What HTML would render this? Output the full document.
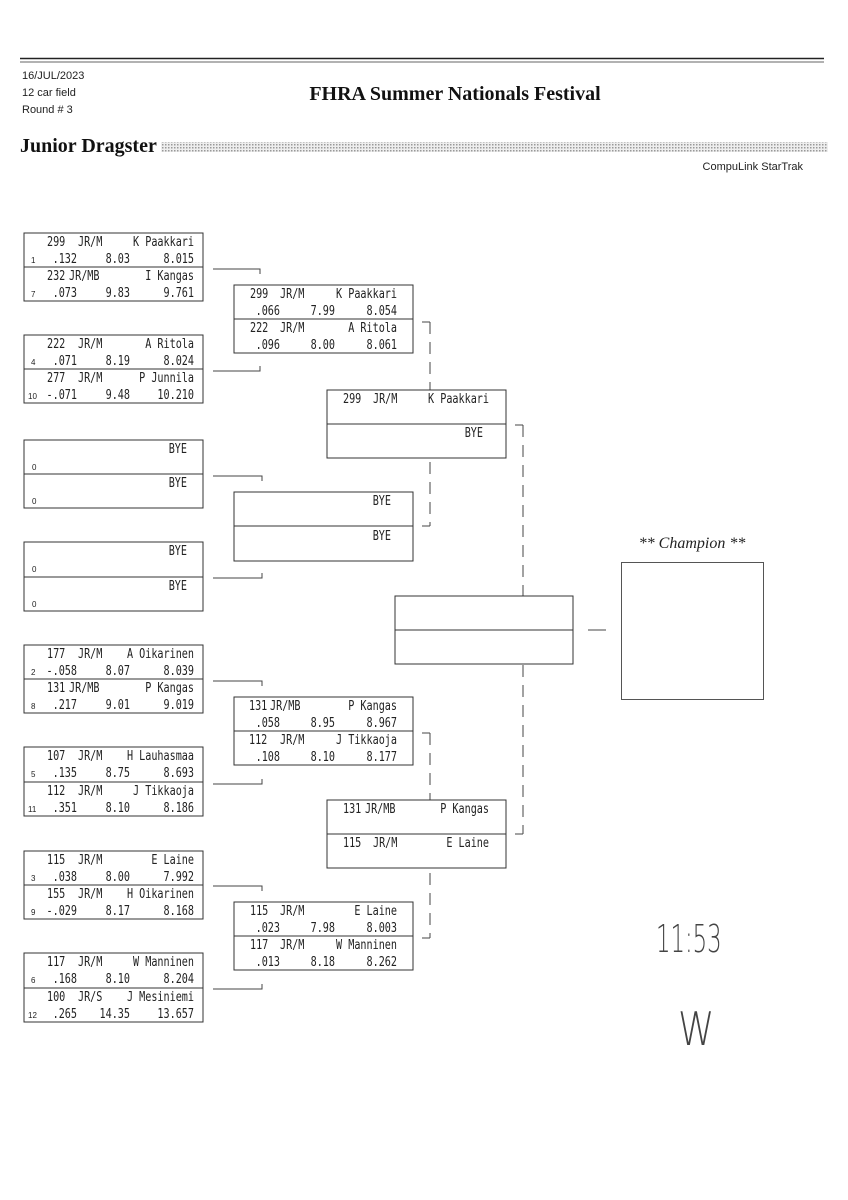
<!DOCTYPE html>
<html><head><meta charset="utf-8"><style>
html,body{margin:0;padding:0;background:#fff;}
svg{display:block}
.m{font-family:"DejaVu Sans Mono","Liberation Mono",monospace;font-size:13px;fill:#222;transform-box:fill-box;transform-origin:0 0;transform:scaleX(.78)}
.m[text-anchor=end]{transform-origin:100% 0}
.s{font-family:"Liberation Sans",sans-serif;font-size:8px;fill:#222}
.h{font-family:"Liberation Sans",sans-serif;font-size:11px;fill:#222}
.t{font-family:"Liberation Serif",serif;font-weight:bold;fill:#111}
.b{fill:#fff;stroke:#333;stroke-width:1}
</style></head><body>
<svg width="848" height="1200" viewBox="0 0 848 1200" xmlns="http://www.w3.org/2000/svg">
<defs><pattern id="dots" width="3" height="3" patternUnits="userSpaceOnUse"><rect width="3" height="3" fill="#eee"/><rect width="1.5" height="1.5" fill="#999"/></pattern></defs>
<line x1="20" y1="58.5" x2="824" y2="58.5" stroke="#222" stroke-width="1.5"/>
<line x1="20" y1="62" x2="824" y2="62" stroke="#666" stroke-width="1"/>
<text class="h" x="22" y="79">16/JUL/2023</text>
<text class="h" x="22" y="96">12 car field</text>
<text class="h" x="22" y="113">Round # 3</text>
<text class="t" x="455" y="100" font-size="20" text-anchor="middle">FHRA Summer Nationals Festival</text>
<text class="t" x="20" y="152" font-size="20">Junior Dragster</text>
<rect x="161" y="142" width="667" height="10" fill="url(#dots)"/>
<text class="h" x="803" y="170" text-anchor="end">CompuLink StarTrak</text>

<!-- Round 1 -->
<rect class="b" x="24" y="233" width="179" height="68"/><line x1="24" y1="267" x2="203" y2="267" stroke="#333"/>
<text class="m" x="47" y="246">299</text><text class="m" x="78" y="246">JR/M</text><text class="m" x="194" y="246" text-anchor="end">K Paakkari</text>
<text class="s" x="31" y="263">1</text><text class="m" x="77" y="263" text-anchor="end">.132</text><text class="m" x="130" y="263" text-anchor="end">8.03</text><text class="m" x="194" y="263" text-anchor="end">8.015</text>
<text class="m" x="47" y="280">232</text><text class="m" x="69" y="280">JR/MB</text><text class="m" x="194" y="280" text-anchor="end">I Kangas</text>
<text class="s" x="31" y="297">7</text><text class="m" x="77" y="297" text-anchor="end">.073</text><text class="m" x="130" y="297" text-anchor="end">9.83</text><text class="m" x="194" y="297" text-anchor="end">9.761</text>

<rect class="b" x="24" y="335" width="179" height="68"/><line x1="24" y1="369" x2="203" y2="369" stroke="#333"/>
<text class="m" x="47" y="348">222</text><text class="m" x="78" y="348">JR/M</text><text class="m" x="194" y="348" text-anchor="end">A Ritola</text>
<text class="s" x="31" y="365">4</text><text class="m" x="77" y="365" text-anchor="end">.071</text><text class="m" x="130" y="365" text-anchor="end">8.19</text><text class="m" x="194" y="365" text-anchor="end">8.024</text>
<text class="m" x="47" y="382">277</text><text class="m" x="78" y="382">JR/M</text><text class="m" x="194" y="382" text-anchor="end">P Junnila</text>
<text class="s" x="28" y="399">10</text><text class="m" x="77" y="399" text-anchor="end">-.071</text><text class="m" x="130" y="399" text-anchor="end">9.48</text><text class="m" x="194" y="399" text-anchor="end">10.210</text>

<rect class="b" x="24" y="440" width="179" height="68"/><line x1="24" y1="474" x2="203" y2="474" stroke="#333"/>
<text class="m" x="187" y="453" text-anchor="end">BYE</text><text class="s" x="32" y="470">0</text>
<text class="m" x="187" y="487" text-anchor="end">BYE</text><text class="s" x="32" y="504">0</text>

<rect class="b" x="24" y="542" width="179" height="69"/><line x1="24" y1="577" x2="203" y2="577" stroke="#333"/>
<text class="m" x="187" y="555" text-anchor="end">BYE</text><text class="s" x="32" y="572">0</text>
<text class="m" x="187" y="590" text-anchor="end">BYE</text><text class="s" x="32" y="607">0</text>

<rect class="b" x="24" y="645" width="179" height="68"/><line x1="24" y1="679" x2="203" y2="679" stroke="#333"/>
<text class="m" x="47" y="658">177</text><text class="m" x="78" y="658">JR/M</text><text class="m" x="194" y="658" text-anchor="end">A Oikarinen</text>
<text class="s" x="31" y="675">2</text><text class="m" x="77" y="675" text-anchor="end">-.058</text><text class="m" x="130" y="675" text-anchor="end">8.07</text><text class="m" x="194" y="675" text-anchor="end">8.039</text>
<text class="m" x="47" y="692">131</text><text class="m" x="69" y="692">JR/MB</text><text class="m" x="194" y="692" text-anchor="end">P Kangas</text>
<text class="s" x="31" y="709">8</text><text class="m" x="77" y="709" text-anchor="end">.217</text><text class="m" x="130" y="709" text-anchor="end">9.01</text><text class="m" x="194" y="709" text-anchor="end">9.019</text>

<rect class="b" x="24" y="747" width="179" height="69"/><line x1="24" y1="782" x2="203" y2="782" stroke="#333"/>
<text class="m" x="47" y="760">107</text><text class="m" x="78" y="760">JR/M</text><text class="m" x="194" y="760" text-anchor="end">H Lauhasmaa</text>
<text class="s" x="31" y="777">5</text><text class="m" x="77" y="777" text-anchor="end">.135</text><text class="m" x="130" y="777" text-anchor="end">8.75</text><text class="m" x="194" y="777" text-anchor="end">8.693</text>
<text class="m" x="47" y="795">112</text><text class="m" x="78" y="795">JR/M</text><text class="m" x="194" y="795" text-anchor="end">J Tikkaoja</text>
<text class="s" x="28" y="812">11</text><text class="m" x="77" y="812" text-anchor="end">.351</text><text class="m" x="130" y="812" text-anchor="end">8.10</text><text class="m" x="194" y="812" text-anchor="end">8.186</text>

<rect class="b" x="24" y="851" width="179" height="68"/><line x1="24" y1="885" x2="203" y2="885" stroke="#333"/>
<text class="m" x="47" y="864">115</text><text class="m" x="78" y="864">JR/M</text><text class="m" x="194" y="864" text-anchor="end">E Laine</text>
<text class="s" x="31" y="881">3</text><text class="m" x="77" y="881" text-anchor="end">.038</text><text class="m" x="130" y="881" text-anchor="end">8.00</text><text class="m" x="194" y="881" text-anchor="end">7.992</text>
<text class="m" x="47" y="898">155</text><text class="m" x="78" y="898">JR/M</text><text class="m" x="194" y="898" text-anchor="end">H Oikarinen</text>
<text class="s" x="31" y="915">9</text><text class="m" x="77" y="915" text-anchor="end">-.029</text><text class="m" x="130" y="915" text-anchor="end">8.17</text><text class="m" x="194" y="915" text-anchor="end">8.168</text>

<rect class="b" x="24" y="953" width="179" height="69"/><line x1="24" y1="988" x2="203" y2="988" stroke="#333"/>
<text class="m" x="47" y="966">117</text><text class="m" x="78" y="966">JR/M</text><text class="m" x="194" y="966" text-anchor="end">W Manninen</text>
<text class="s" x="31" y="983">6</text><text class="m" x="77" y="983" text-anchor="end">.168</text><text class="m" x="130" y="983" text-anchor="end">8.10</text><text class="m" x="194" y="983" text-anchor="end">8.204</text>
<text class="m" x="47" y="1001">100</text><text class="m" x="78" y="1001">JR/S</text><text class="m" x="194" y="1001" text-anchor="end">J Mesiniemi</text>
<text class="s" x="28" y="1018">12</text><text class="m" x="77" y="1018" text-anchor="end">.265</text><text class="m" x="130" y="1018" text-anchor="end">14.35</text><text class="m" x="194" y="1018" text-anchor="end">13.657</text>

<g stroke="#444" fill="none" stroke-width="1">
<polyline points="213,269 260,269 260,274"/><polyline points="213,371 260,371 260,366"/>
<polyline points="213,476 262,476 262,481"/><polyline points="213,578 262,578 262,573"/>
<polyline points="213,681 262,681 262,686"/><polyline points="213,784 262,784 262,779"/>
<polyline points="213,886 262,886 262,891"/><polyline points="213,989 262,989 262,984"/>
</g>
<g stroke="#444" fill="none" stroke-width="1">
<line x1="422" y1="322" x2="430" y2="322"/><line x1="430" y1="322" x2="430" y2="526" stroke-dasharray="12,8"/><line x1="422" y1="526" x2="430" y2="526"/>
<line x1="422" y1="733" x2="430" y2="733"/><line x1="430" y1="733" x2="430" y2="938" stroke-dasharray="12,8"/><line x1="422" y1="938" x2="430" y2="938"/>
<line x1="515" y1="425" x2="523" y2="425"/><line x1="523" y1="425" x2="523" y2="834" stroke-dasharray="12,8"/><line x1="515" y1="834" x2="523" y2="834"/>
<line x1="588" y1="630" x2="606" y2="630"/>
</g>

<!-- Round 2 -->
<rect class="b" x="234" y="285" width="179" height="68"/><line x1="234" y1="319" x2="413" y2="319" stroke="#333"/>
<text class="m" x="250" y="298">299</text><text class="m" x="280" y="298">JR/M</text><text class="m" x="397" y="298" text-anchor="end">K Paakkari</text>
<text class="m" x="280" y="315" text-anchor="end">.066</text><text class="m" x="335" y="315" text-anchor="end">7.99</text><text class="m" x="397" y="315" text-anchor="end">8.054</text>
<text class="m" x="250" y="332">222</text><text class="m" x="280" y="332">JR/M</text><text class="m" x="397" y="332" text-anchor="end">A Ritola</text>
<text class="m" x="280" y="349" text-anchor="end">.096</text><text class="m" x="335" y="349" text-anchor="end">8.00</text><text class="m" x="397" y="349" text-anchor="end">8.061</text>

<rect class="b" x="234" y="492" width="179" height="69"/><line x1="234" y1="526" x2="413" y2="526" stroke="#333"/>
<text class="m" x="391" y="505" text-anchor="end">BYE</text><text class="m" x="391" y="540" text-anchor="end">BYE</text>

<rect class="b" x="234" y="697" width="179" height="68"/><line x1="234" y1="731" x2="413" y2="731" stroke="#333"/>
<text class="m" x="249" y="710">131</text><text class="m" x="270" y="710">JR/MB</text><text class="m" x="397" y="710" text-anchor="end">P Kangas</text>
<text class="m" x="280" y="727" text-anchor="end">.058</text><text class="m" x="335" y="727" text-anchor="end">8.95</text><text class="m" x="397" y="727" text-anchor="end">8.967</text>
<text class="m" x="249" y="744">112</text><text class="m" x="280" y="744">JR/M</text><text class="m" x="397" y="744" text-anchor="end">J Tikkaoja</text>
<text class="m" x="280" y="761" text-anchor="end">.108</text><text class="m" x="335" y="761" text-anchor="end">8.10</text><text class="m" x="397" y="761" text-anchor="end">8.177</text>

<rect class="b" x="234" y="902" width="179" height="68"/><line x1="234" y1="936" x2="413" y2="936" stroke="#333"/>
<text class="m" x="250" y="915">115</text><text class="m" x="280" y="915">JR/M</text><text class="m" x="397" y="915" text-anchor="end">E Laine</text>
<text class="m" x="280" y="932" text-anchor="end">.023</text><text class="m" x="335" y="932" text-anchor="end">7.98</text><text class="m" x="397" y="932" text-anchor="end">8.003</text>
<text class="m" x="250" y="949">117</text><text class="m" x="280" y="949">JR/M</text><text class="m" x="397" y="949" text-anchor="end">W Manninen</text>
<text class="m" x="280" y="966" text-anchor="end">.013</text><text class="m" x="335" y="966" text-anchor="end">8.18</text><text class="m" x="397" y="966" text-anchor="end">8.262</text>

<!-- Round 3 -->
<rect class="b" x="327" y="390" width="179" height="68"/><line x1="327" y1="424" x2="506" y2="424" stroke="#333"/>
<text class="m" x="343" y="403">299</text><text class="m" x="373" y="403">JR/M</text><text class="m" x="489" y="403" text-anchor="end">K Paakkari</text>
<text class="m" x="483" y="437" text-anchor="end">BYE</text>

<rect class="b" x="327" y="800" width="179" height="68"/><line x1="327" y1="834" x2="506" y2="834" stroke="#333"/>
<text class="m" x="343" y="813">131</text><text class="m" x="365" y="813">JR/MB</text><text class="m" x="489" y="813" text-anchor="end">P Kangas</text>
<text class="m" x="343" y="847">115</text><text class="m" x="373" y="847">JR/M</text><text class="m" x="489" y="847" text-anchor="end">E Laine</text>

<!-- Final -->
<rect class="b" x="395" y="596" width="178" height="68"/><line x1="395" y1="630" x2="573" y2="630" stroke="#333"/>

<!-- Champion -->
<text x="692" y="548" text-anchor="middle" font-family="Liberation Serif,serif" font-style="italic" font-size="16" fill="#222">** Champion **</text>
<rect x="621.5" y="562.5" width="142" height="137" fill="#fff" stroke="#555"/>

<!-- handwriting -->
<text x="656" y="952" font-family="DejaVu Sans,sans-serif" font-size="38" font-weight="200" fill="#444" style="transform-box:fill-box;transform-origin:0 0;transform:scaleX(.6)">11:53</text>
<text x="678" y="1045" font-family="DejaVu Sans,sans-serif" font-size="46" font-weight="200" fill="#444" style="transform-box:fill-box;transform-origin:0 0;transform:scaleX(.8)">W</text>
</svg>
</body></html>
